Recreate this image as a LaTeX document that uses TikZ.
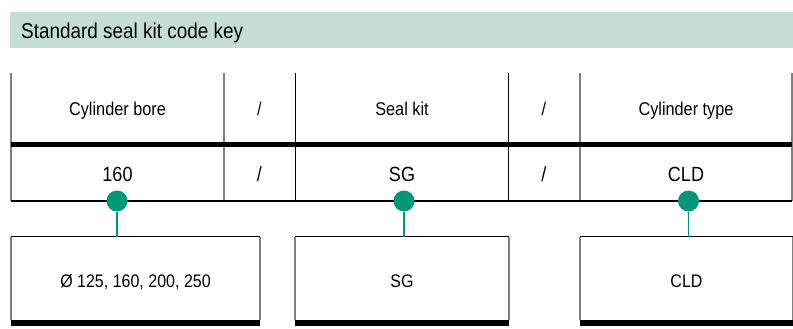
\documentclass[tikz,border=0pt]{standalone}
\usepackage{fontspec}
\setmainfont{Liberation Sans}[FakeStretch=0.88]
\definecolor{bandgreen}{RGB}{197,221,213}
\definecolor{sealgreen}{RGB}{0,151,120}
\definecolor{rulegray}{RGB}{128,128,128}
\begin{document}
\begin{tikzpicture}[x=1pt,y=-1pt,
  grayrule/.style={draw=rulegray, line width=1.6pt},
  blackrule/.style={draw=black, line width=1.1pt},
  thickrule/.style={draw=black, line width=5.5pt},
  headtxt/.style={inner sep=0pt, anchor=base, font=\fontsize{18.5}{21}\selectfont},
  codetxt/.style={inner sep=0pt, anchor=base, font=\fontsize{20.5}{23}\selectfont},
  boxtxt/.style={inner sep=0pt, anchor=base, font=\fontsize{18.2}{21}\selectfont},
  keybox/.style={inner sep=0pt, minimum height=83pt},
  dot/.style={circle, fill=sealgreen, minimum size=21pt, inner sep=0pt},
  link/.style={draw=sealgreen, line width=1.5pt}]
\useasboundingbox (0,0) rectangle (793,329);
% title band
\node[fill=bandgreen, minimum width=783pt, minimum height=35.7pt, inner sep=0pt, anchor=north west] (band) at (10,12) {};
\node[anchor=base west, inner sep=0pt, font=\fontsize{21.5}{24}\selectfont] (title) at (21,38.3) {Standard seal kit code key};
% table rules
\draw[grayrule] (11,73) -- (11,201);
\draw[grayrule] (224,73) -- (224,201);
\draw[blackrule] (295.5,73) -- (295.5,201);
\draw[blackrule] (508.7,73) -- (508.7,201);
\draw[grayrule] (580,73) -- (580,201);
\draw[grayrule] (792,73) -- (792,201);
\draw[thickrule] (11,144.5) -- (792,144.5);
\draw[blackrule] (11,201) -- (792,201);
% header row
\node[headtxt] (h1) at (117.5,115.5) {Cylinder bore};
\node[headtxt] (h2) at (259.5,115.5) {/};
\node[headtxt] (h3) at (402,115.5) {Seal kit};
\node[headtxt] (h4) at (544,115.5) {/};
\node[headtxt] (h5) at (686,115.5) {Cylinder type};
% code row
\node[codetxt] (c1) at (117.5,181.5) {160};
\node[codetxt] (c2) at (259.5,181.5) {/};
\node[codetxt] (c3) at (402,181.5) {SG};
\node[codetxt] (c4) at (544,181.5) {/};
\node[codetxt] (c5) at (686,181.5) {CLD};
% key boxes
\node[keybox, minimum width=249pt] (b1) at (135.5,278.5) {};
\node[keybox, minimum width=214pt] (b2) at (402,278.5) {};
\node[keybox, minimum width=213pt] (b3) at (686.5,278.5) {};
\node[boxtxt] (t1) at (135.5,287) {Ø 125, 160, 200, 250};
\node[boxtxt] (t2) at (402,287) {SG};
\node[boxtxt] (t3) at (686.5,287) {CLD};
\foreach \b in {b1,b2,b3}{
  \draw[blackrule] (\b.north west) -- (\b.north east);
  \draw[grayrule] (\b.north west) -- (\b.south west);
  \draw[grayrule] (\b.north east) -- (\b.south east);
  \draw[line width=6pt] ([yshift=-3pt]\b.south west) -- ([yshift=-3pt]\b.south east);
}
% dots and links
\node[dot] (d1) at (117,201) {};
\node[dot] (d2) at (404,201) {};
\node[dot] (d3) at (688.5,201) {};
\draw[link] (d1) -- (d1 |- b1.north);
\draw[link] (d2) -- (d2 |- b2.north);
\draw[link] (d3) -- (d3 |- b3.north);
\end{tikzpicture}
\end{document}
